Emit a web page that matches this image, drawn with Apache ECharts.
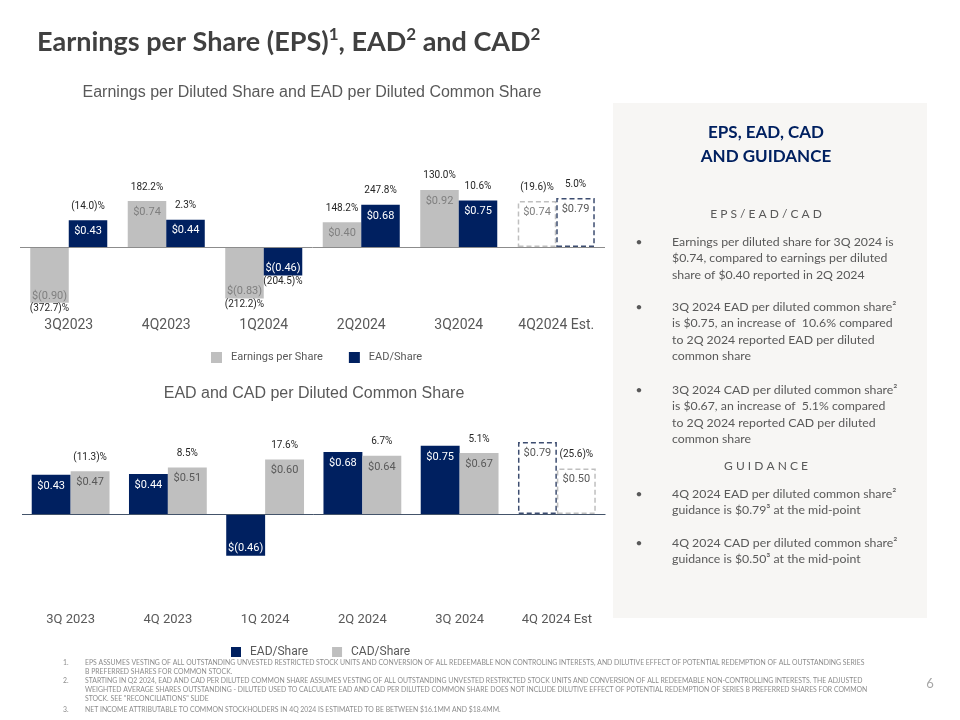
<!DOCTYPE html>
<html>
<head>
<meta charset="utf-8">
<script src="https://cdn.jsdelivr.net/npm/echarts@6.0.0/dist/echarts.min.js"></script>
<style>
html,body{margin:0;padding:0;background:#ffffff;}
#chart{width:960px;height:720px;}
</style>
</head>
<body>
<div id="chart"></div>
<script>
// ---------- data ----------
const topCategories = ['3Q2023', '4Q2023', '1Q2024', '2Q2024', '3Q2024', '4Q2024 Est.'];
const epsValues = [-0.90, 0.74, -0.83, 0.40, 0.92, 0.74];
const epsChange = ['(372.7)%', '182.2%', '(212.2)%', '148.2%', '130.0%', '(19.6)%'];
const eadTopValues = [0.43, 0.44, -0.46, 0.68, 0.75, 0.79];
const eadTopChange = ['(14.0)%', '2.3%', '(204.5)%', '247.8%', '10.6%', '5.0%'];

const bottomCategories = ['3Q 2023', '4Q 2023', '1Q 2024', '2Q 2024', '3Q 2024', '4Q 2024 Est'];
const eadValues = [0.43, 0.44, -0.46, 0.68, 0.75, 0.79];
const cadValues = [0.47, 0.51, 0.60, 0.64, 0.67, 0.50];
const cadChange = ['(11.3)%', '8.5%', '17.6%', '6.7%', '5.1%', '(25.6)%'];

const titleParts = [['Earnings per Share (EPS)', '1'], [', EAD', '2'], [' and CAD', '2']];
const topSubtitle = 'Earnings per Diluted Share and EAD per Diluted Common Share';
const bottomSubtitle = 'EAD and CAD per Diluted Common Share';

const panelHeader = 'EPS, EAD, CAD\nAND GUIDANCE';
const panelSection1 = 'E P S / E A D / C A D';
const panelSection2 = 'G U I D A N C E';
const panelBullets = [
  ['Earnings per diluted share for 3Q 2024 is', '$0.74, compared to earnings per diluted', 'share of $0.40 reported in 2Q 2024'],
  ['3Q 2024 EAD per diluted common share\u00B2', 'is $0.75, an increase of  10.6% compared', 'to 2Q 2024 reported EAD per diluted', 'common share'],
  ['3Q 2024 CAD per diluted common share\u00B2', 'is $0.67, an increase of  5.1% compared', 'to 2Q 2024 reported CAD per diluted', 'common share'],
  ['4Q 2024 EAD per diluted common share\u00B2', 'guidance is $0.79\u00B3 at the mid-point'],
  ['4Q 2024 CAD per diluted common share\u00B2', 'guidance is $0.50\u00B3 at the mid-point']
];
const footnoteNumbers = ['1.', '', '2.', '', '', '3.'];
const footnoteLines = [
  'EPS ASSUMES VESTING OF ALL OUTSTANDING UNVESTED RESTRICTED STOCK UNITS AND CONVERSION OF ALL REDEEMABLE NON CONTROLING INTERESTS, AND DILUTIVE EFFECT OF POTENTIAL REDEMPTION OF ALL OUTSTANDING SERIES',
  'B PREFERRED SHARES FOR COMMON STOCK.',
  'STARTING IN Q2 2024, EAD AND CAD PER DILUTED COMMON SHARE ASSUMES VESTING OF ALL OUTSTANDING UNVESTED RESTRICTED STOCK UNITS AND CONVERSION OF ALL REDEEMABLE NON-CONTROLLING INTERESTS. THE ADJUSTED',
  'WEIGHTED AVERAGE SHARES OUTSTANDING - DILUTED USED TO CALCULATE EAD AND CAD PER DILUTED COMMON SHARE DOES NOT INCLUDE DILUTIVE EFFECT OF POTENTIAL REDEMPTION OF SERIES B PREFERRED SHARES FOR COMMON',
  'STOCK. SEE "RECONCILIATIONS" SLIDE',
  'NET INCOME ATTRIBUTABLE TO COMMON STOCKHOLDERS IN 4Q 2024 IS ESTIMATED TO BE BETWEEN $16.1MM AND $18.4MM.'
];
const pageNumber = '6';

// ---------- styling helpers ----------
const NAVY = '#002060';
const GREY = '#bfbfbf';
const TEXT = '#595959';
const UI_FONT = 'Roboto';
const BODY_FONT = 'Lato';

function money(v) {
  return v < 0 ? '$(' + Math.abs(v).toFixed(2) + ')' : '$' + v.toFixed(2);
}

function buildData(values, changes, cats, st) {
  return values.map(function (v, i) {
    const est = /Est/.test(cats[i]);
    const pct = changes ? changes[i] : null;
    let label;
    if (v >= 0) {
      label = {
        position: 'top',
        distance: -18,
        formatter: pct ? '{p|' + pct + '}\n{s| }\n{v|' + money(v) + '}' : '{v|' + money(v) + '}'
      };
    } else {
      label = {
        position: 'bottom',
        distance: pct ? -14 : -15,
        formatter: pct ? '{v|' + money(v) + '}\n{p|' + pct + '}' : '{v|' + money(v) + '}'
      };
    }
    label.rich = {
      v: { fontSize: 11, lineHeight: 14, fontFamily: UI_FONT, color: est ? st.estText : st.text },
      p: { fontSize: 10, lineHeight: 12, fontFamily: UI_FONT, color: '#262626' },
      s: { fontSize: 10, lineHeight: 12 }
    };
    const item = { value: v, label: label };
    if (est) {
      item.itemStyle = { color: '#ffffff', borderColor: st.estBorder, borderType: [5, 3], borderWidth: 1.5 };
    }
    return item;
  });
}

function zeroLine(color) {
  return {
    silent: true,
    symbol: ['none', 'none'],
    label: { show: false },
    lineStyle: { color: color, type: 'solid', width: 1 },
    data: [{ yAxis: 0 }],
    animation: false
  };
}

// ---------- graphic elements ----------
const graphics = [];
graphics.push({ type: 'rect', shape: { x: 613, y: 103, width: 314, height: 515 }, style: { fill: '#f7f6f4' }, z: -10 });
const titleRich = titleParts.map(function (p) { return '{m|' + p[0] + '}{u|' + p[1] + '}'; }).join('');
graphics.push({ type: 'text', x: 37, y: 26, style: {
  text: titleRich, align: 'left', verticalAlign: 'top',
  rich: {
    m: { fontSize: 27, fontWeight: 'bold', fontFamily: BODY_FONT, fill: '#404040', color: '#404040', lineHeight: 30, verticalAlign: 'bottom' },
    u: { fontSize: 17, fontWeight: 'bold', fontFamily: BODY_FONT, fill: '#404040', color: '#404040', lineHeight: 18, verticalAlign: 'top' }
  }
} });
graphics.push({ type: 'text', x: 312, y: 93, style: { text: topSubtitle, font: '16px "Liberation Sans"', fill: TEXT, align: 'center', verticalAlign: 'middle' } });
graphics.push({ type: 'text', x: 314, y: 394, style: { text: bottomSubtitle, font: '16px "Liberation Sans"', fill: TEXT, align: 'center', verticalAlign: 'middle' } });
graphics.push({ type: 'text', x: 766, y: 133 - 12, style: { text: panelHeader, font: 'bold 17px ' + BODY_FONT, fill: NAVY, align: 'center', verticalAlign: 'top', lineHeight: 24 } });
graphics.push({ type: 'text', x: 766, y: 214, style: { text: panelSection1, font: '12px ' + BODY_FONT, fill: TEXT, align: 'center', verticalAlign: 'middle' } });
graphics.push({ type: 'text', x: 766, y: 466, style: { text: panelSection2, font: '12px ' + BODY_FONT, fill: TEXT, align: 'center', verticalAlign: 'middle' } });
const bulletY = [241.7, 307, 390, 494, 543];
const LH = 16.5;
panelBullets.forEach(function (lines, k) {
  graphics.push({ type: 'text', x: 639, y: bulletY[k], style: { text: '\u2022', font: '12px ' + BODY_FONT, fill: TEXT, align: 'center', verticalAlign: 'middle' } });
  graphics.push({ type: 'text', x: 672, y: bulletY[k] - LH / 2, style: { text: lines.join('\n'), font: '12.3px ' + BODY_FONT, fill: TEXT, align: 'left', verticalAlign: 'top', lineHeight: LH } });
});
const footY = [663, 672, 681, 690, 699, 710];
footnoteLines.forEach(function (t, k) {
  if (footnoteNumbers[k]) {
    graphics.push({ type: 'text', x: 63, y: footY[k], style: { text: footnoteNumbers[k], font: '6.85px ' + BODY_FONT, fill: '#8c8c8c', align: 'left', verticalAlign: 'middle' } });
  }
  graphics.push({ type: 'text', x: 85, y: footY[k], style: { text: t, font: '6.85px ' + BODY_FONT, fill: '#8c8c8c', align: 'left', verticalAlign: 'middle' } });
});
graphics.push({ type: 'text', x: 930, y: 684, style: { text: pageNumber, font: '13px ' + BODY_FONT, fill: '#a6a6a6', align: 'center', verticalAlign: 'middle' } });

// ---------- chart ----------
const chart = echarts.init(document.getElementById('chart'), null, { renderer: 'canvas' });
const option = {
  animation: false,
  backgroundColor: '#ffffff',
  grid: [
    { left: 20, top: 154, width: 585, height: 155, outerBoundsMode: 'none', containLabel: false },
    { left: 22, top: 423, width: 583.5, height: 182, outerBoundsMode: 'none', containLabel: false }
  ],
  xAxis: [
    { gridIndex: 0, type: 'category', data: topCategories, axisLine: { show: false }, axisTick: { show: false },
      axisLabel: { color: TEXT, fontSize: 14, fontFamily: UI_FONT, margin: 9, interval: 0 } },
    { gridIndex: 1, type: 'category', data: bottomCategories, axisLine: { show: false }, axisTick: { show: false },
      axisLabel: { color: TEXT, fontSize: 13, fontFamily: UI_FONT, margin: 8, interval: 0 } }
  ],
  yAxis: [
    { gridIndex: 0, type: 'value', min: -1, max: 1.5, show: false, splitLine: { show: false } },
    { gridIndex: 1, type: 'value', min: -1, max: 1, show: false, splitLine: { show: false } }
  ],
  legend: [
    { left: 211, top: 352, padding: 0, itemWidth: 11, itemHeight: 11, itemGap: 26, icon: 'rect', selectedMode: false,
      data: ['Earnings per Share', 'EAD/Share'],
      textStyle: { color: TEXT, fontSize: 11, fontFamily: UI_FONT, padding: [0, 0, 0, 4] } },
    { left: 231, top: 646, padding: 0, itemWidth: 10, itemHeight: 10, itemGap: 24, icon: 'rect', selectedMode: false,
      data: ['EAD/Share', 'CAD/Share'],
      textStyle: { color: TEXT, fontSize: 12, fontFamily: UI_FONT, padding: [0, 0, 0, 4] } }
  ],
  series: [
    { name: 'Earnings per Share', type: 'bar', xAxisIndex: 0, yAxisIndex: 0, barWidth: '39.5%', barGap: '0%',
      itemStyle: { color: GREY }, label: { show: true },
      data: buildData(epsValues, epsChange, topCategories, { text: '#7f7f7f', estText: '#7f7f7f', estBorder: GREY }),
      markLine: zeroLine('#8c8c8c') },
    { name: 'EAD/Share', type: 'bar', xAxisIndex: 0, yAxisIndex: 0, barWidth: '39.5%', barGap: '0%',
      itemStyle: { color: NAVY }, label: { show: true },
      data: buildData(eadTopValues, eadTopChange, topCategories, { text: '#ffffff', estText: TEXT, estBorder: '#3d4d70' }) },
    { name: 'EAD/Share', type: 'bar', xAxisIndex: 1, yAxisIndex: 1, barWidth: '40%', barGap: '0%',
      itemStyle: { color: NAVY }, label: { show: true },
      data: buildData(eadValues, null, bottomCategories, { text: '#ffffff', estText: TEXT, estBorder: '#3d4d70' }),
      markLine: zeroLine('#44546a') },
    { name: 'CAD/Share', type: 'bar', xAxisIndex: 1, yAxisIndex: 1, barWidth: '40%', barGap: '0%',
      itemStyle: { color: GREY }, label: { show: true },
      data: buildData(cadValues, cadChange, bottomCategories, { text: TEXT, estText: TEXT, estBorder: GREY }) }
  ],
  graphic: { elements: graphics }
};
chart.setOption(option);
</script>
</body>
</html>
